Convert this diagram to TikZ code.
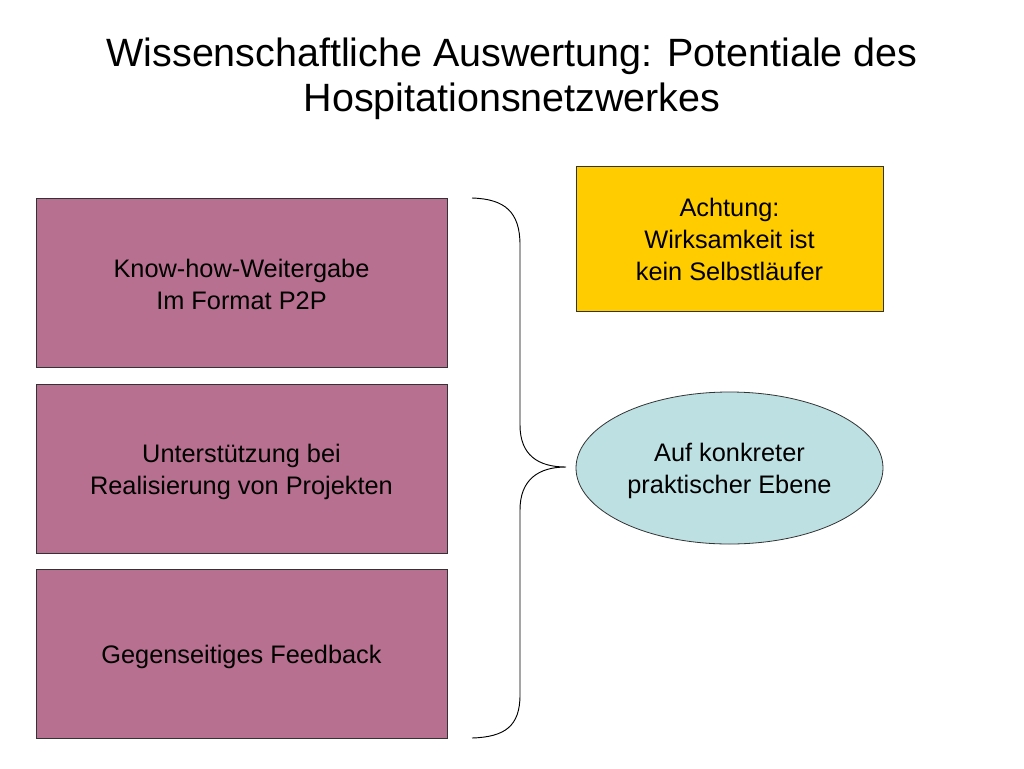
\documentclass[tikz,border=0pt]{standalone}
\usepackage{fontspec}
\setmainfont{Liberation Sans}
\usetikzlibrary{shapes.geometric}
\definecolor{boxpurple}{HTML}{B87090}
\definecolor{warnyellow}{HTML}{FFCC00}
\definecolor{ellblue}{HTML}{BDE0E3}
\definecolor{edgegray}{HTML}{333333}
\begin{document}
\begin{tikzpicture}[x=0.75pt,y=-0.75pt,
  txt/.style={font=\fontsize{19pt}{24pt}\selectfont, align=center, text=black},
  pbox/.style={txt, draw=edgegray, line width=0.6pt, fill=boxpurple, rectangle,
    minimum width=308.25pt, minimum height=126.75pt, inner sep=0pt},
  ybox/.style={txt, draw=edgegray, line width=0.6pt, fill=warnyellow, rectangle,
    minimum width=230.25pt, minimum height=108.75pt, inner sep=0pt},
  ebox/.style={txt, draw=edgegray, line width=0.6pt, fill=ellblue, ellipse,
    minimum width=230.25pt, minimum height=114pt, inner sep=0pt},
  lbl/.style={txt, anchor=center},
  brace/.style={draw=black, line width=0.7pt}]
\useasboundingbox[fill=white] (0,0) rectangle (1024,768);
\node[font=\fontsize{29.6pt}{34pt}\selectfont, align=center] (title) at (512,79)
  {Wissenschaftliche Auswertung: Potentiale des\\Hospitationsnetzwerkes};
\node[pbox] (b1) at (241.5,282.5) {};
\node[pbox] (b2) at (241.5,468.5) {};
\node[pbox] (b3) at (241.5,654) {};
\node[ybox] (warn) at (729.5,238.5) {};
\node[ebox] (ell) at (729.5,468) {};
\node[lbl] (t1) at ([yshift=-1.5pt]b1.center) {Know-how-Weitergabe\\Im Format P2P};
\node[lbl] (t2) at ([yshift=-2.5pt]b2.center) {Unterstützung bei\\ Realisierung von Projekten};
\node[lbl] (t3) at ([yshift=-2.5pt]b3.center) {Gegenseitiges Feedback};
\node[lbl] (tw) at ([yshift=-1pt]warn.center) {Achtung:\\Wirksamkeit ist\\ kein Selbstläufer};
\node[lbl] (te) at ([yshift=-2.5pt]ell.center) {Auf konkreter\\ praktischer Ebene};
\coordinate (btop) at (472,198);
\coordinate (btip) at (566,467);
\coordinate (bbot) at (472,738);
\draw[brace] (btop) .. controls (505,199) and (520,212) .. (520,245)
  -- (520,425) .. controls (520,455) and (538,467) .. (btip)
  .. controls (538,467) and (520,480) .. (520,510)
  -- (520,695) .. controls (520,726) and (505,737) .. (bbot);
\end{tikzpicture}
\end{document}
